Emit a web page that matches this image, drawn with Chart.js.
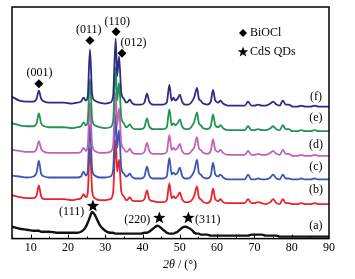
<!DOCTYPE html>
<html>
<head>
<meta charset="utf-8">
<script src="https://cdn.jsdelivr.net/npm/chart.js@4.4.0/dist/chart.umd.min.js"></script>
<style>
  body { margin: 0; background: #fff; }
</style>
</head>
<body>
<canvas id="xrd" width="355" height="279"></canvas>
<script>
// 2theta grid (deg) shared by all patterns
var twoTheta = [5, 7, 9, 10.8, 11.6, 12.2, 12.8, 13.7, 15, 17, 19, 21, 22.5, 23.5, 24.2, 24.8, 25.3, 25.9, 26.5, 27.2,
  28.5, 30, 31.3, 32.1, 32.8, 33.2, 33.7, 34.3, 35.0, 35.6, 36.1, 36.6, 37.1, 38, 39.6, 40.5, 41.2, 41.8, 42.8, 44,
  45.5, 46.5, 47.2, 47.8, 48.3, 48.8, 49.4, 50.0, 50.6, 51.4, 52.3, 53.4, 53.9, 54.6, 55.1, 55.6, 56.3, 57.3, 58.3, 58.9,
  59.5, 60.3, 60.9, 61.6, 62.8, 64, 65.5, 67.4, 68.3, 69.2, 70, 71, 72, 73, 74.3, 75.0, 75.9, 76.8, 77.6, 78.4,
  79.2, 80.2, 81.5, 82.6, 83.6, 85, 86.2, 87.2, 88.5, 90];

// intensities (a.u., stacked as in the figure)
var patternF = [144, 140, 139, 139, 142, 150, 142, 139, 138, 138, 138, 137, 138, 139, 143, 140, 144, 192, 146, 140,
  138, 137, 138, 144, 203, 165, 185, 148, 142, 138, 139, 141, 138, 136, 136, 138, 147, 139, 136, 136,
  136, 138, 156, 140, 143, 140, 142, 146, 139, 136, 136, 140, 144, 153, 142, 140, 137, 136, 139, 151,
  140, 138, 140, 137, 135, 135, 135, 135, 139, 135, 135, 136, 135, 135, 137, 139, 136, 135, 140, 136,
  136, 134, 134, 135, 134, 134, 135, 134, 134, 134];
var patternE = [117, 115, 114, 114, 117, 127, 117, 114, 113, 113, 113, 112, 113, 114, 118, 115, 119, 162, 121, 115,
  113, 112, 113, 119, 174, 140, 158, 123, 117, 113, 114, 116, 113, 111, 111, 113, 122, 114, 111, 111,
  111, 113, 131, 115, 117, 115, 117, 121, 114, 111, 111, 115, 119, 128, 117, 115, 112, 111, 114, 126,
  115, 113, 115, 112, 110, 110, 110, 110, 114, 110, 110, 111, 110, 110, 112, 114, 111, 110, 115, 111,
  111, 109, 109, 110, 109, 109, 110, 109, 109, 109];
var patternD = [90, 89, 88, 88, 91, 99, 91, 88, 87, 87, 87, 87, 87, 88, 92, 89, 93, 138, 95, 89,
  87, 87, 88, 94, 148, 115, 132, 97, 91, 88, 89, 91, 88, 86, 86, 88, 97, 89, 86, 86,
  86, 88, 105, 90, 92, 90, 92, 96, 89, 86, 86, 90, 93, 103, 92, 90, 87, 86, 89, 101,
  90, 88, 90, 87, 85, 85, 85, 85, 89, 85, 85, 86, 85, 85, 87, 89, 86, 85, 90, 86,
  86, 84, 84, 85, 84, 84, 85, 84, 84, 84];
var patternC = [64, 63, 62, 63, 67, 79, 66, 63, 62, 62, 62, 62, 62, 63, 68, 64, 68, 116, 70, 64,
  62, 62, 63, 69, 126, 92, 110, 72, 66, 63, 64, 66, 63, 61, 61, 63, 73, 64, 61, 61,
  61, 63, 82, 65, 67, 65, 67, 72, 64, 61, 61, 65, 69, 80, 67, 65, 62, 61, 64, 77,
  65, 63, 65, 62, 60, 60, 60, 60, 65, 60, 60, 61, 60, 60, 62, 65, 61, 60, 65, 61,
  61, 60, 60, 61, 60, 60, 61, 60, 60, 60];
var patternB = [44, 42, 41, 41, 44, 54, 43, 40, 40, 40, 40, 39, 40, 41, 45, 42, 46, 92, 48, 41,
  39, 39, 40, 46, 100, 68, 80, 48, 43, 39, 40, 42, 39, 38, 38, 40, 49, 40, 38, 37,
  37, 39, 56, 41, 43, 41, 43, 47, 40, 37, 37, 40, 44, 53, 42, 40, 37, 36, 39, 51,
  40, 38, 40, 37, 36, 36, 36, 36, 40, 36, 36, 37, 36, 35, 37, 40, 36, 35, 40, 36,
  36, 35, 35, 36, 35, 35, 36, 35, 35, 35];
var patternA = [12, 10, 9, 8, 8, 8, 7, 7, 7, 6, 6, 6, 6, 7, 9, 12, 16, 22, 27, 24,
  14, 8, 6, 6, 5, 5, 5, 5, 5, 5, 5, 5, 5, 5, 5, 6, 6, 7, 10, 13,
  9, 6, 5, 5, 5, 6, 7, 9, 11, 12, 11, 8, 6, 5, 5, 4, 4, 4, 3, 3,
  3, 3, 3, 3, 3, 3, 3, 3, 3, 4, 4, 4, 4, 3, 3, 3, 3, 2, 2, 2,
  2, 2, 2, 2, 2, 2, 2, 2, 2, 2];

var sampleNames = ['(f)', '(e)', '(d)', '(c)', '(b)', '(a)'];
var sampleColors = ['#2d2a84', '#1f9550', '#c062b8', '#3a55b5', '#e8232b', '#111111'];
var xTicks = [10, 20, 30, 40, 50, 60, 70, 80, 90];

// annotation marks: [2theta, y, text, marker]
var peakNotes = [
  [12.2, 157, '(001)', 'diamond'],
  [25.9, 201, '(011)', 'diamond'],
  [32.9, 210, '(110)', 'diamond'],
  [34.5, 188, '(012)', 'diamond'],
  [26.7, 33, '(111)', 'star'],
  [44.5, 21, '(220)', 'star'],
  [52.3, 21, '(311)', 'star']
];
var noteText = [[12.4, 168], [25.6, 212], [33.2, 220], [37.6, 199], [21.0, 27], [38.6, 19], [57.5, 19]];
var labelY = [144, 123, 95, 73, 49, 13];

var serif = '"Liberation Serif", "Times New Roman", serif';
Chart.defaults.font.family = serif;

function patternOf(arr) {
  return arr.map(function (v, i) { return { x: twoTheta[i], y: v }; });
}

function diamond(ctx, x, y, r) {
  ctx.beginPath();
  ctx.moveTo(x, y - r); ctx.lineTo(x + r, y); ctx.lineTo(x, y + r); ctx.lineTo(x - r, y);
  ctx.closePath(); ctx.fill();
}
function star(ctx, x, y, r) {
  ctx.beginPath();
  for (var k = 0; k < 10; k++) {
    var rr = k % 2 ? r * 0.42 : r;
    var a = -Math.PI / 2 + k * Math.PI / 5;
    ctx.lineTo(x + rr * Math.cos(a), y + rr * Math.sin(a));
  }
  ctx.closePath(); ctx.fill();
}

var decor = {
  id: 'decor',
  afterDraw: function (chart) {
    var ctx = chart.ctx, a = chart.chartArea;
    var xs = chart.scales.x, ys = chart.scales.y;
    ctx.save();
    ctx.strokeStyle = '#000';
    ctx.lineWidth = 1.5;
    ctx.strokeRect(a.left, a.top, a.right - a.left, a.bottom - a.top);
    // inward tick marks
    ctx.lineWidth = 1;
    for (var t = 5; t < 90; t += 5) {
      var px = Math.round(xs.getPixelForValue(t)) + 0.5;
      var len = t % 10 === 0 ? 4 : 2;
      ctx.beginPath(); ctx.moveTo(px, a.bottom); ctx.lineTo(px, a.bottom - len); ctx.stroke();
    }
    ctx.fillStyle = '#000';
    ctx.font = '12px ' + serif;
    ctx.textAlign = 'center';
    ctx.textBaseline = 'middle';
    peakNotes.forEach(function (n, i) {
      var mx = xs.getPixelForValue(n[0]), my = ys.getPixelForValue(n[1]);
      if (n[3] === 'diamond') diamond(ctx, mx, my, 4.5); else star(ctx, mx, my, 6.5);
      ctx.fillText(n[2], xs.getPixelForValue(noteText[i][0]), ys.getPixelForValue(noteText[i][1]));
    });
    // sample labels
    sampleNames.forEach(function (s, i) {
      ctx.fillText(s, xs.getPixelForValue(86.5), ys.getPixelForValue(labelY[i]));
    });
    // legend
    ctx.textAlign = 'left';
    diamond(ctx, 243, 33, 4);
    ctx.fillText('BiOCl', 250, 33);
    star(ctx, 243, 52, 5.5);
    ctx.fillText('CdS QDs', 250, 52);
    // x title with italic 2θ
    ctx.font = 'italic 12px ' + serif;
    ctx.fillText('2\u03b8', 163, 265);
    var w = ctx.measureText('2\u03b8').width;
    ctx.font = '12px ' + serif;
    ctx.fillText(' / (\u00b0)', 163 + w, 265);
    ctx.restore();
  }
};

var datasets = [patternF, patternE, patternD, patternC, patternB, patternA].map(function (arr, i) {
  return {
    label: sampleNames[i],
    data: patternOf(arr),
    borderColor: sampleColors[i],
    borderWidth: i === 5 ? 2.4 : 1.8,
    pointRadius: 0,
    cubicInterpolationMode: 'monotone',
    fill: false
  };
});

new Chart(document.getElementById('xrd').getContext('2d'), {
  type: 'line',
  data: { datasets: datasets },
  options: {
    responsive: false,
    animation: false,
    layout: { padding: { left: 12, right: 26, top: 7, bottom: 22 } },
    plugins: { legend: { display: false }, tooltip: { enabled: false } },
    scales: {
      x: {
        type: 'linear',
        min: 5,
        max: 90,
        grid: { display: false, drawTicks: false },
        border: { display: false },
        afterBuildTicks: function (axis) {
          axis.ticks = xTicks.map(function (v) { return { value: v }; });
        },
        ticks: { color: '#000', font: { size: 12 }, padding: 2, maxRotation: 0 }
      },
      y: { display: false, min: 0, max: 235 }
    }
  },
  plugins: [decor]
});
</script>
</body>
</html>
